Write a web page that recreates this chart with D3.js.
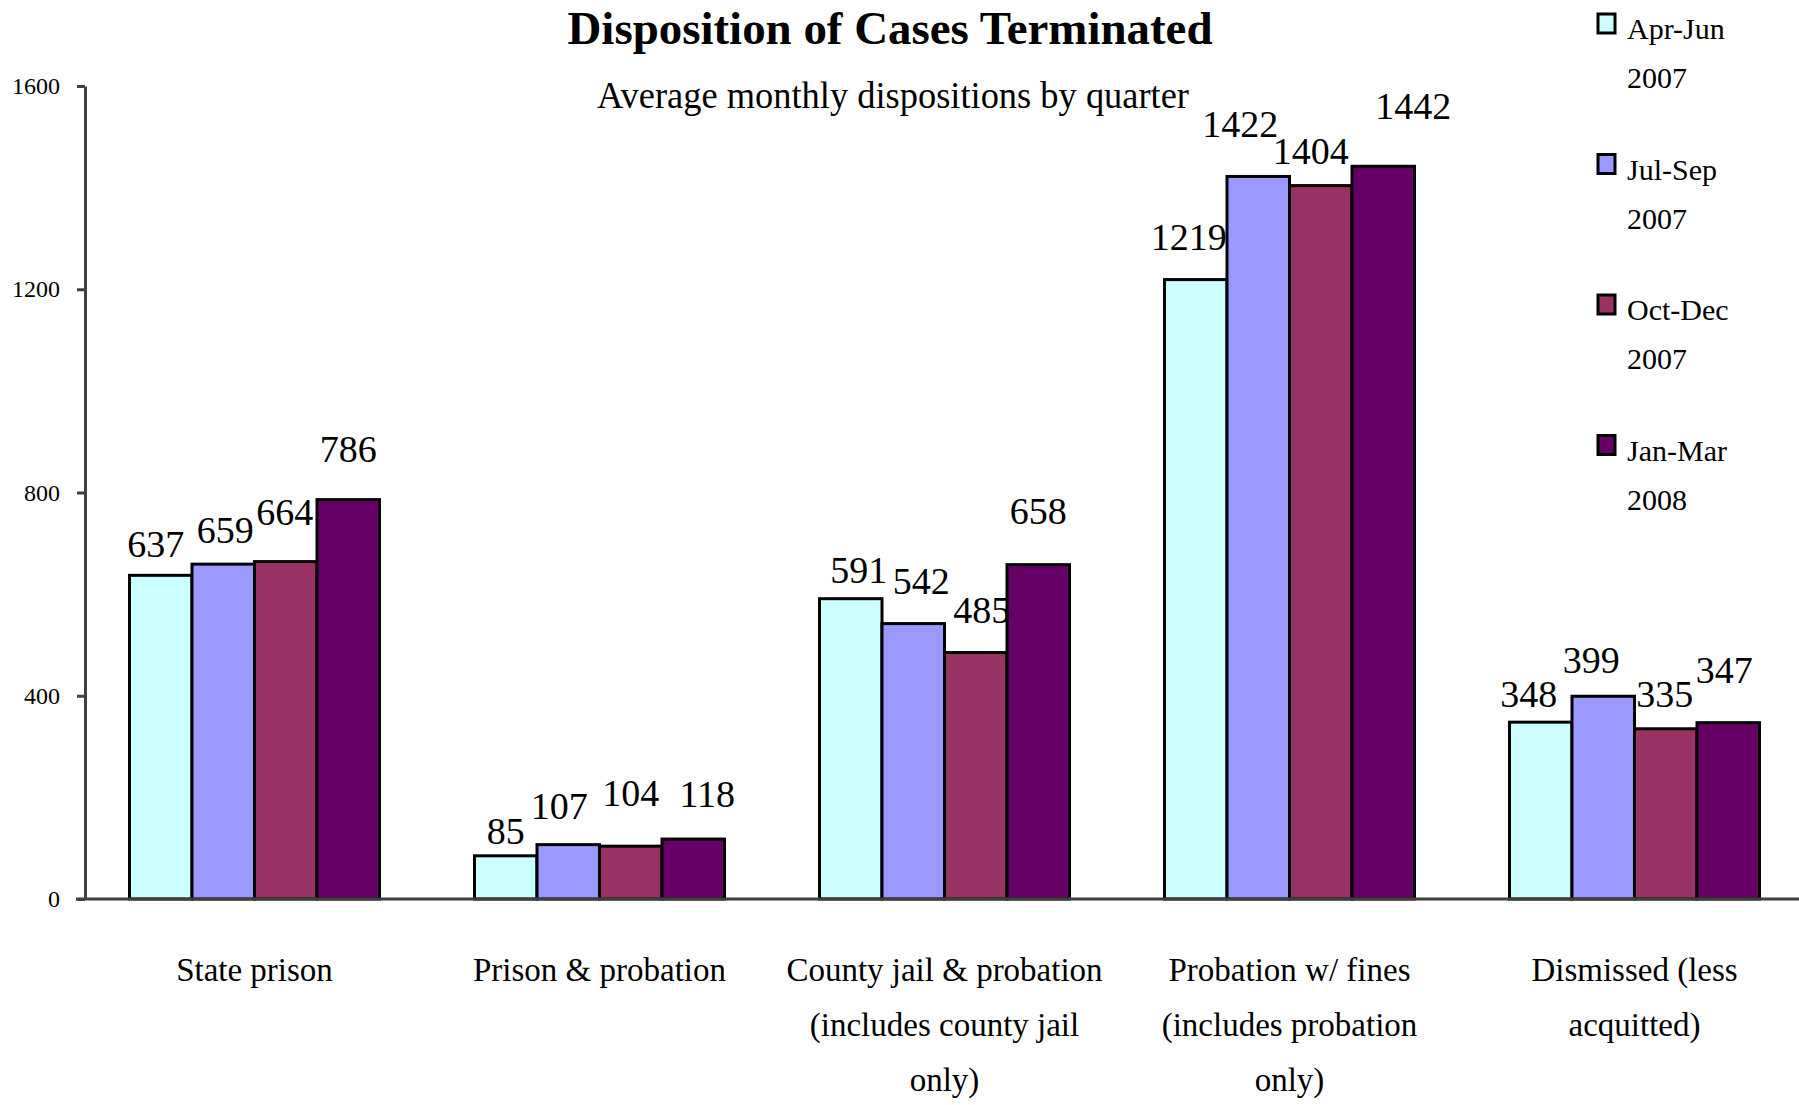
<!DOCTYPE html>
<html>
<head>
<meta charset="utf-8">
<script src="https://cdn.jsdelivr.net/npm/d3@7"></script>
<style>
  body { margin: 0; background: #fff; }
  svg text { font-family: "Liberation Serif", "Times New Roman", serif; fill: #000; }
</style>
</head>
<body>
<svg id="chart" width="1799" height="1105"></svg>
<script>
// categories along the x axis (\n = line break)
var categories = [
  "State prison",
  "Prison & probation",
  "County jail & probation\n(includes county jail\nonly)",
  "Probation w/ fines\n(includes probation\nonly)",
  "Dismissed (less\nacquitted)"
]
var quarters = ["Apr-Jun\n2007", "Jul-Sep\n2007", "Oct-Dec\n2007", "Jan-Mar\n2008"]
var colors = ["#ccffff", "#9999ff", "#993366", "#660066"]

// one array per quarter, in category order
var aprJun07 = [637, 85, 591, 1219, 348]
var julSep07 = [659, 107, 542, 1422, 399]
var octDec07 = [664, 104, 485, 1404, 335]
var janMar08 = [786, 118, 658, 1442, 347]
var series = [aprJun07, julSep07, octDec07, janMar08]

var yTicks = [0, 400, 800, 1200, 1600]

// excel put its value labels a bit off-centre, these are the nudges (px) per quarter / category
var labelDx = [[-5, 0, 8, -7, -12], [2, -9, 8, -18, -12], [-1, 0, 6, -10, -1], [0, 14, 0, 30, -4]]
var labelDy = [[18, 12, 16, 30, 15], [21, 26, 30, 39, 23], [37, 40, 30, 22, 22], [38, 32, 41, 47, 40]]

function main(){
	var svg = d3.select('svg#chart')

	var x0 = d3.scaleBand()
		.domain(categories)
		.range([82, 1807])
		.paddingInner(0)
		.paddingOuter(0)
	var x1 = d3.scaleBand()
		.domain(d3.range(series.length))
		.range([0, x0.bandwidth()])
		.paddingInner(0)
		.paddingOuter(0.76)
	var y = d3.scaleLinear()
		.domain([0, 1600])
		.range([899, 86])

	// title
	svg.append('text')
		.attr('x', 890).attr('y', 44)
		.attr('text-anchor', 'middle')
		.attr('textLength', 645)
		.attr('lengthAdjust', 'spacingAndGlyphs')
		.style('font-size', '47px')
		.style('font-weight', 'bold')
		.text('Disposition of Cases Terminated')
	svg.append('text')
		.attr('x', 893).attr('y', 108)
		.attr('text-anchor', 'middle')
		.attr('textLength', 592)
		.attr('lengthAdjust', 'spacingAndGlyphs')
		.style('font-size', '38px')
		.text('Average monthly dispositions by quarter')

	// y axis
	var yAxis = d3.axisLeft(y)
		.tickValues(yTicks)
		.tickSize(8)
		.tickSizeOuter(0)
		.tickPadding(17)
		.tickFormat(d3.format('d'))
	var ga = svg.append('g')
		.attr('transform', 'translate(85,0)')
		.call(yAxis)
	ga.select('.domain').attr('stroke', '#404040').attr('stroke-width', 3)
	ga.selectAll('.tick line').attr('stroke', '#404040').attr('stroke-width', 3)
	ga.selectAll('.tick text')
		.style('font-family', '"Liberation Serif", serif')
		.style('font-size', '24px')
		.attr('fill', '#000')

	// bars
	var groups = svg.append('g').selectAll('g.cat')
		.data(categories)
		.enter()
		.append('g')
		.attr('class', 'cat')
		.attr('transform', function(d){ return 'translate(' + x0(d) + ',0)' })

	groups.selectAll('rect')
		.data(function(d, ci){ return series.map(function(s, si){ return {si: si, ci: ci, v: s[ci]} }) })
		.enter()
		.append('rect')
		.attr('x', function(d){ return x1(d.si) })
		.attr('y', function(d){ return y(d.v) })
		.attr('width', x1.bandwidth())
		.attr('height', function(d){ return y(0) - y(d.v) })
		.attr('fill', function(d){ return colors[d.si] })
		.attr('stroke', '#000')
		.attr('stroke-width', 3)

	groups.selectAll('text.val')
		.data(function(d, ci){ return series.map(function(s, si){ return {si: si, ci: ci, v: s[ci]} }) })
		.enter()
		.append('text')
		.attr('class', 'val')
		.attr('x', function(d){ return x1(d.si) + x1.bandwidth() / 2 + labelDx[d.si][d.ci] })
		.attr('y', function(d){ return y(d.v) - labelDy[d.si][d.ci] })
		.attr('text-anchor', 'middle')
		.style('font-size', '38px')
		.text(function(d){ return d.v })

	// x axis, drawn over bar bottoms
	var xAxis = d3.axisBottom(x0).tickSize(0).tickSizeOuter(0).tickFormat('')
	var gx = svg.append('g')
		.attr('transform', 'translate(0,' + y(0) + ')')
		.call(xAxis)
	gx.select('.domain').attr('d', 'M76,0H1799').attr('stroke', '#404040').attr('stroke-width', 3)

	var cl = svg.append('g').selectAll('text.cat')
		.data(categories)
		.enter()
		.append('text')
		.attr('class', 'cat')
		.attr('text-anchor', 'middle')
		.style('font-size', '33px')
	cl.selectAll('tspan')
		.data(function(d){ return d.split('\n').map(function(t){ return {t: t, c: d} }) })
		.enter()
		.append('tspan')
		.attr('x', function(d){ return x0(d.c) + x0.bandwidth() / 2 })
		.attr('y', function(d, i){ return 981 + i * 55 })
		.text(function(d){ return d.t })

	// legend
	var lg = svg.append('g').selectAll('g.leg')
		.data(quarters)
		.enter()
		.append('g')
		.attr('class', 'leg')
		.attr('transform', function(d, i){ return 'translate(1598,' + (39 + i * 140.5) + ')' })
	lg.append('rect')
		.attr('x', 0).attr('y', -25)
		.attr('width', 17).attr('height', 19)
		.attr('fill', function(d, i){ return colors[i] })
		.attr('stroke', '#000')
		.attr('stroke-width', 3)
	lg.append('text')
		.style('font-size', '30px')
		.selectAll('tspan')
		.data(function(d){ return d.split('\n') })
		.enter()
		.append('tspan')
		.attr('x', 29)
		.attr('y', function(d, i){ return i * 49 })
		.text(function(d){ return d })
}
main()
</script>
</body>
</html>
